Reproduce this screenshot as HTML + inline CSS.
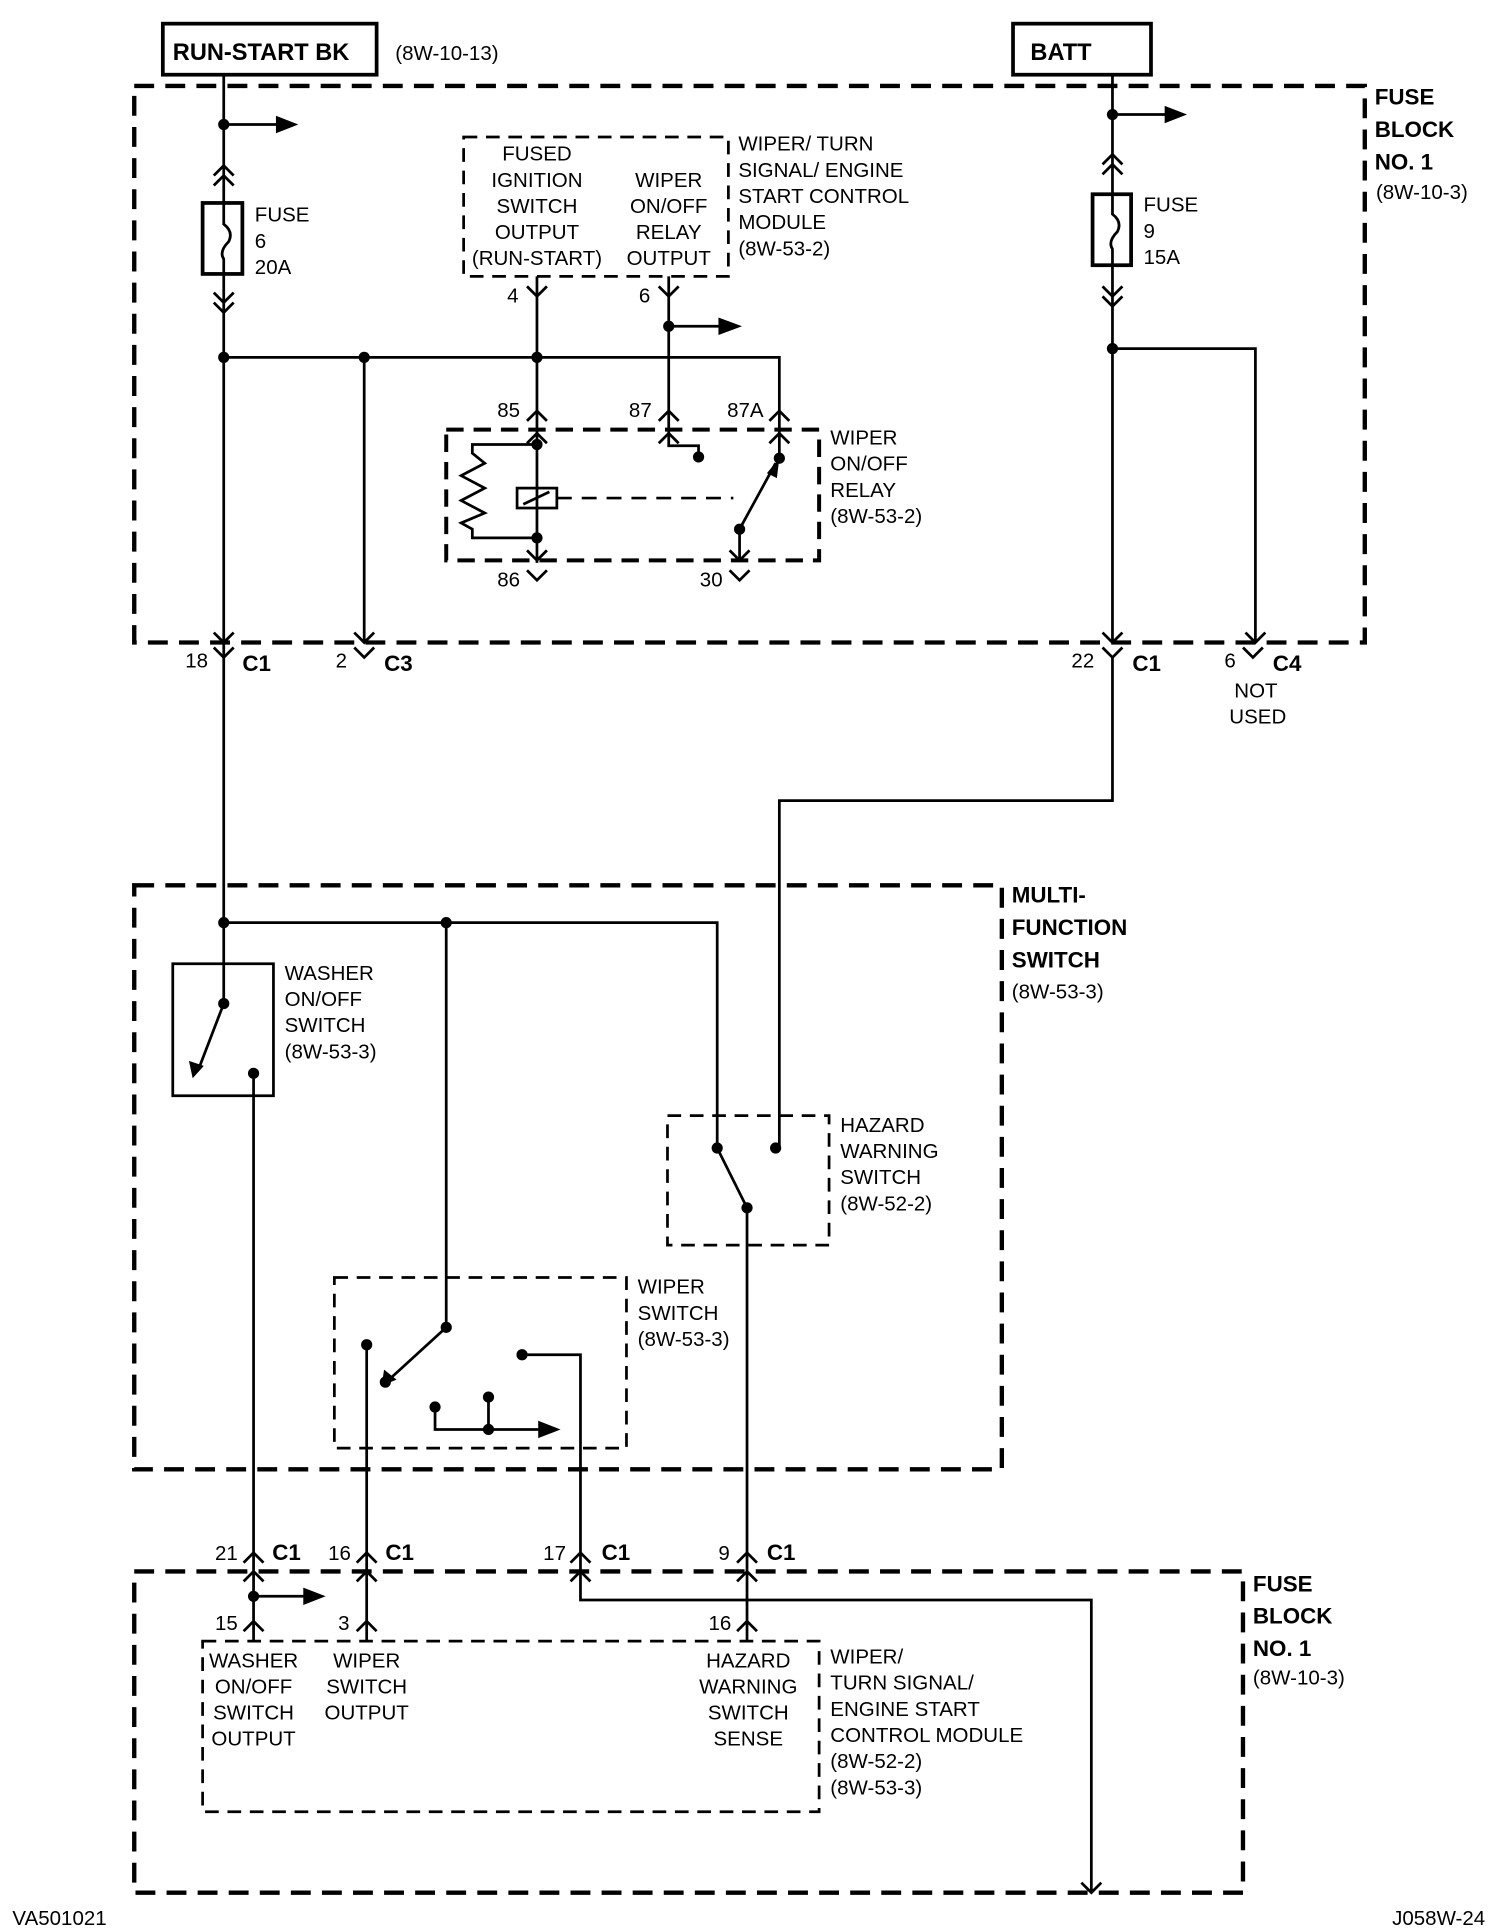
<!DOCTYPE html>
<html><head><meta charset="utf-8"><style>
html,body{margin:0;padding:0;background:#fff}
svg{display:block}
text{font-family:"Liberation Sans",Arial,sans-serif;fill:#000}
.s{font-size:16.5px}
.b{font-size:19px;font-weight:bold}
.c{font-size:18px;font-weight:bold}
</style></head><body>
<svg width="1504" height="1930" viewBox="0 0 1210 1550" preserveAspectRatio="none" xmlns="http://www.w3.org/2000/svg">
<g fill="none" stroke="#000" stroke-width="2.2">
<rect x="131" y="19" width="172" height="41" stroke-width="3"/>
<rect x="815" y="19" width="111" height="41" stroke-width="3"/>
<g stroke-width="3.5" stroke-dasharray="16 9">
<rect x="108" y="69" width="990" height="447"/>
<rect x="108" y="711" width="698" height="469"/>
<rect x="108" y="1262" width="892" height="258"/>
</g>
<g stroke-width="2.2" stroke-dasharray="11 7">
<path d="M373 110 H586 V222 H373 Z"/>
<rect x="359" y="345" width="300" height="105" stroke-width="3.2" stroke-dasharray="14 8"/>
<rect x="537" y="896" width="130" height="104"/>
<rect x="269" y="1026" width="235" height="137"/>
<rect x="163" y="1318" width="496" height="137"/>
</g>
<rect x="139" y="774" width="81" height="106"/>
<!-- fuses -->
<rect x="163" y="163" width="32" height="57" stroke-width="3"/>
<path d="M180 163 V180 Q188 186 184 194 Q176 202 180 208 V220"/>
<rect x="879" y="156" width="31" height="57" stroke-width="3"/>
<path d="M895 156 V172 Q903 178 899 186 Q891 194 895 200 V213"/>
<!-- left main wire -->
<path d="M180 60 V163 M180 220 V806 M180 100 H225"/>
<path d="M172 141 L180 133 L188 141 M172 149 L180 141 L188 149"/>
<path d="M172 235 L180 243 L188 235 M172 243 L180 251 L188 243"/>
<path d="M172 508 L180 516 L188 508 M172 520 L180 528 L188 520"/>
<!-- bus -->
<path d="M180 287 H627 V345"/>
<path d="M293 287 V516 M285 508 L293 516 L301 508 M285 520 L293 528 L301 520"/>
<path d="M432 222 V452 M424 230 L432 238 L440 230"/>
<path d="M538 222 V358 H562 V367 M530 230 L538 238 L546 230 M538 262 H580"/>
<!-- relay -->
<path d="M424 338 L432 330 L440 338 M424 356 L432 348 L440 356"/>
<path d="M530 338 L538 330 L546 338 M530 356 L538 348 L546 356"/>
<path d="M619 338 L627 330 L635 338 M619 356 L627 348 L635 356 M627 345 V368"/>
<path d="M432 357 H380 V364 L390 372 L371 382 L390 392 L371 402 L390 412 L371 420 L380 425 V432 H432"/>
<rect x="416" y="392" width="32" height="16"/>
<path d="M421 405 L442 395"/>
<path d="M448 400 H590" stroke-dasharray="12 8"/>
<path d="M595 425 L624 372"/>
<path d="M595 425 V450 M587 442 L595 450 L603 442 M587 458 L595 466 L603 458"/>
<path d="M424 442 L432 450 L440 442 M424 458 L432 466 L440 458"/>
<!-- right wire -->
<path d="M895 60 V156 M895 213 V516 M895 92 H940"/>
<path d="M887 132 L895 124 L903 132 M887 140 L895 132 L903 140"/>
<path d="M887 230 L895 238 L903 230 M887 238 L895 246 L903 238"/>
<path d="M895 280 H1010 V516"/>
<path d="M887 508 L895 516 L903 508 M887 520 L895 528 L903 520"/>
<path d="M1002 508 L1010 516 L1018 508 M1000 520 L1008 528 L1016 520"/>
<path d="M895 528 V643 H627 V922"/>
<!-- multifunction -->
<path d="M180 741 H577 V922 M359 741 V1066"/>
<path d="M180 806 L160 858"/>
<path d="M204 862 V1247"/>
<path d="M577 922 L601 970 V1247"/>
<path d="M359 1066 L313 1108"/>
<path d="M295 1080 V1247"/>
<path d="M420 1088 H467 V1247"/>
<path d="M350 1130 V1148 H435 M393 1122 V1148"/>
<!-- bottom connectors -->
<path d="M196 1255 L204 1247 L212 1255 M196 1270 L204 1262 L212 1270 M204 1247 V1318 M196 1310 L204 1302 L212 1310 M204 1282 H245"/>
<path d="M287 1255 L295 1247 L303 1255 M287 1270 L295 1262 L303 1270 M295 1247 V1318 M287 1310 L295 1302 L303 1310"/>
<path d="M459 1255 L467 1247 L475 1255 M459 1270 L467 1262 L475 1270 M467 1247 V1285 H878 V1520 M870 1512 L878 1520 L886 1512"/>
<path d="M593 1255 L601 1247 L609 1255 M593 1270 L601 1262 L609 1270 M601 1247 V1318 M593 1310 L601 1302 L609 1310"/>
</g>
<g fill="#000">
<circle cx="180" cy="100" r="4.5"/><circle cx="180" cy="287" r="4.5"/><circle cx="293" cy="287" r="4.5"/><circle cx="432" cy="287" r="4.5"/><circle cx="538" cy="262" r="4.5"/>
<circle cx="432" cy="357" r="4.5"/><circle cx="432" cy="432" r="4.5"/><circle cx="562" cy="367" r="4.5"/><circle cx="627" cy="368" r="4.5"/><circle cx="595" cy="425" r="4.5"/>
<circle cx="895" cy="92" r="4.5"/><circle cx="895" cy="280" r="4.5"/>
<circle cx="180" cy="741" r="4.5"/><circle cx="359" cy="741" r="4.5"/><circle cx="180" cy="806" r="4.5"/><circle cx="204" cy="862" r="4.5"/>
<circle cx="577" cy="922" r="4.5"/><circle cx="624" cy="922" r="4.5"/><circle cx="601" cy="970" r="4.5"/>
<circle cx="359" cy="1066" r="4.5"/><circle cx="295" cy="1080" r="4.5"/><circle cx="310" cy="1110" r="4.5"/><circle cx="420" cy="1088" r="4.5"/>
<circle cx="350" cy="1130" r="4.5"/><circle cx="393" cy="1122" r="4.5"/><circle cx="393" cy="1148" r="4.5"/><circle cx="204" cy="1282" r="4.5"/>
<path d="M222 93 L240 100 L222 107 Z"/>
<path d="M937 85 L955 92 L937 99 Z"/>
<path d="M578 255 L597 262 L578 269 Z"/>
<path d="M433 1141 L451 1148 L433 1155 Z"/>
<path d="M244 1275 L262 1282 L244 1289 Z"/>
<path d="M152 852 L155 866 L164 856 Z"/>
<path d="M309 1100 L307 1113 L319 1108 Z"/>
<path d="M617 380 L627 368 L625 384 Z"/>
</g>
<g class="b"><text x="139" y="48">RUN-START BK</text><text x="829" y="48">BATT</text></g>
<g class="s">
<text x="318" y="48">(8W-10-13)</text>
<text x="205" y="178">FUSE</text><text x="205" y="199">6</text><text x="205" y="220">20A</text>
<text x="920" y="170">FUSE</text><text x="920" y="191">9</text><text x="920" y="212">15A</text>
<g text-anchor="middle">
<text x="432" y="129">FUSED</text><text x="432" y="150">IGNITION</text><text x="432" y="171">SWITCH</text><text x="432" y="192">OUTPUT</text><text x="432" y="213">(RUN-START)</text>
<text x="538" y="150">WIPER</text><text x="538" y="171">ON/OFF</text><text x="538" y="192">RELAY</text><text x="538" y="213">OUTPUT</text>
<text x="204" y="1339">WASHER</text><text x="204" y="1360">ON/OFF</text><text x="204" y="1381">SWITCH</text><text x="204" y="1402">OUTPUT</text>
<text x="295" y="1339">WIPER</text><text x="295" y="1360">SWITCH</text><text x="295" y="1381">OUTPUT</text>
<text x="602" y="1339">HAZARD</text><text x="602" y="1360">WARNING</text><text x="602" y="1381">SWITCH</text><text x="602" y="1402">SENSE</text>
</g>
<text x="594" y="121">WIPER/ TURN</text><text x="594" y="142">SIGNAL/ ENGINE</text><text x="594" y="163">START CONTROL</text><text x="594" y="184">MODULE</text><text x="594" y="205">(8W-53-2)</text>
<text x="408" y="243">4</text><text x="514" y="243">6</text>
<text x="400" y="335">85</text><text x="506" y="335">87</text><text x="585" y="335">87A</text>
<text x="400" y="471">86</text><text x="563" y="471">30</text>
<text x="668" y="357">WIPER</text><text x="668" y="378">ON/OFF</text><text x="668" y="399">RELAY</text><text x="668" y="420">(8W-53-2)</text>
<text x="1107" y="160">(8W-10-3)</text>
<text x="149" y="536">18</text><text x="270" y="536">2</text><text x="862" y="536">22</text><text x="985" y="536">6</text>
<text x="993" y="560">NOT</text><text x="989" y="581">USED</text>
<text x="814" y="802">(8W-53-3)</text>
<text x="229" y="787">WASHER</text><text x="229" y="808">ON/OFF</text><text x="229" y="829">SWITCH</text><text x="229" y="850">(8W-53-3)</text>
<text x="676" y="909">HAZARD</text><text x="676" y="930">WARNING</text><text x="676" y="951">SWITCH</text><text x="676" y="972">(8W-52-2)</text>
<text x="513" y="1039">WIPER</text><text x="513" y="1060">SWITCH</text><text x="513" y="1081">(8W-53-3)</text>
<text x="173" y="1253">21</text><text x="264" y="1253">16</text><text x="437" y="1253">17</text><text x="578" y="1253">9</text>
<text x="173" y="1309">15</text><text x="272" y="1309">3</text><text x="570" y="1309">16</text>
<text x="668" y="1336">WIPER/</text><text x="668" y="1357">TURN SIGNAL/</text><text x="668" y="1378">ENGINE START</text><text x="668" y="1399">CONTROL MODULE</text><text x="668" y="1420">(8W-52-2)</text><text x="668" y="1441">(8W-53-3)</text>
<text x="1008" y="1353">(8W-10-3)</text>
<text x="10" y="1546">VA501021</text><text x="1120" y="1546">J058W-24</text>
</g>
<g class="c">
<text x="195" y="539">C1</text><text x="309" y="539">C3</text><text x="911" y="539">C1</text><text x="1024" y="539">C4</text>
<text x="219" y="1253">C1</text><text x="310" y="1253">C1</text><text x="484" y="1253">C1</text><text x="617" y="1253">C1</text>
<text x="1106" y="84">FUSE</text><text x="1106" y="110">BLOCK</text><text x="1106" y="136">NO. 1</text>
<text x="814" y="725">MULTI-</text><text x="814" y="751">FUNCTION</text><text x="814" y="777">SWITCH</text>
<text x="1008" y="1278">FUSE</text><text x="1008" y="1304">BLOCK</text><text x="1008" y="1330">NO. 1</text>
</g>
</svg>
</body></html>
